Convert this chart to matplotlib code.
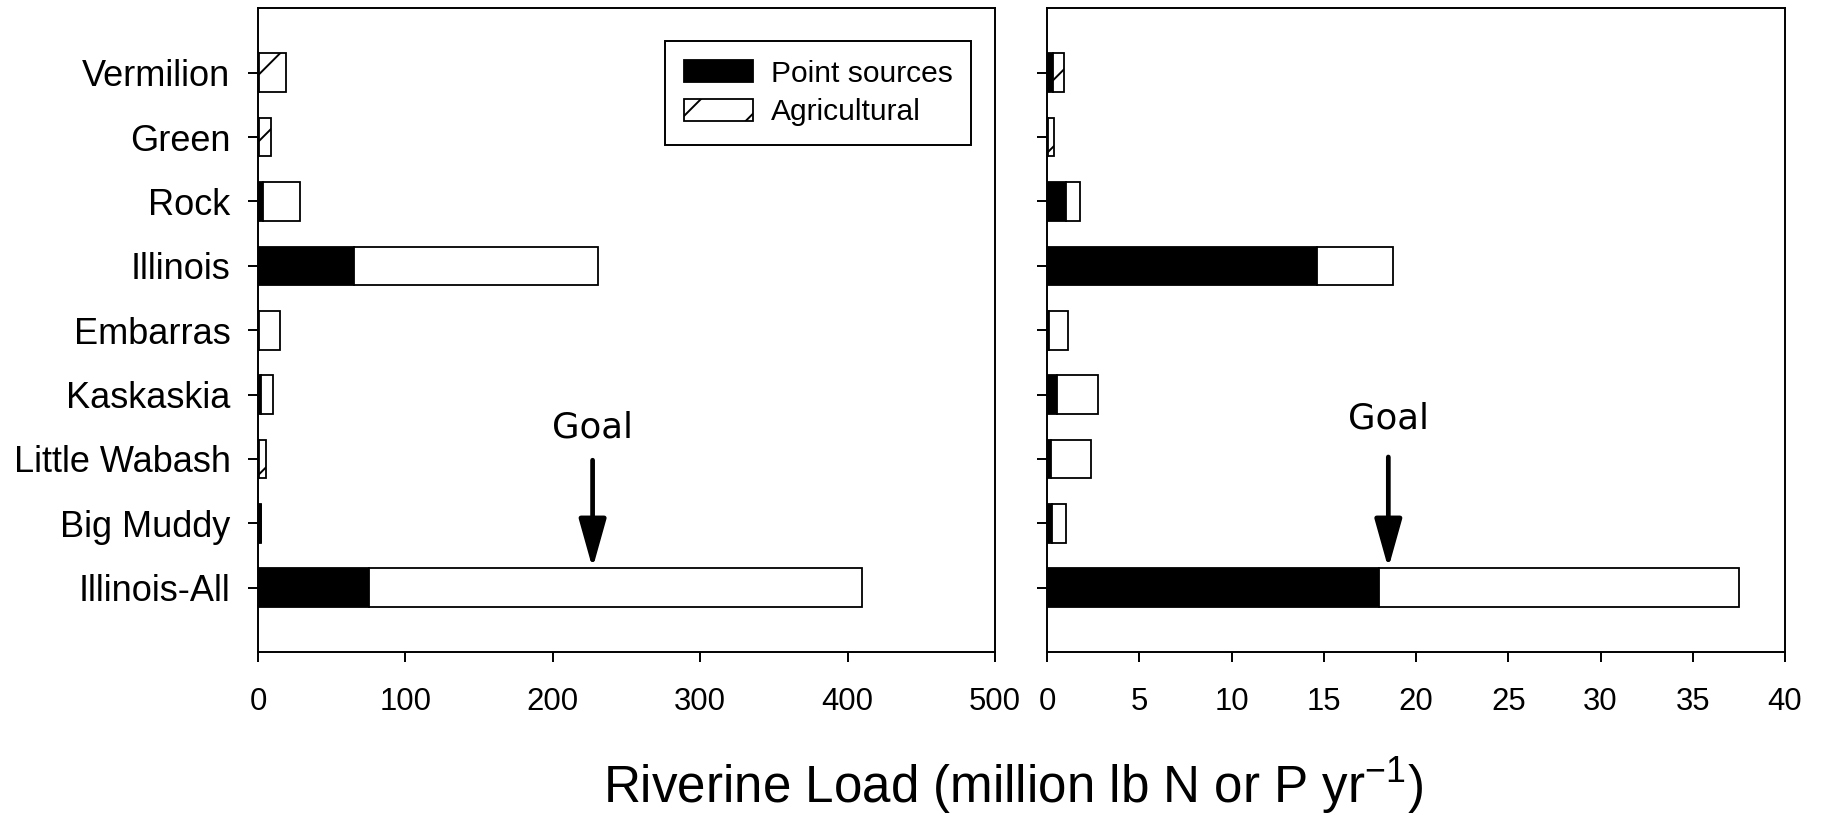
import matplotlib
matplotlib.use("Agg")
import matplotlib.pyplot as plt
from matplotlib.patches import Patch
import numpy as np

# ---------------- data ----------------
rivers = ["Vermilion", "Green", "Rock", "Illinois", "Embarras", "Kaskaskia",
          "Little Wabash", "Big Muddy", "Illinois-All"]

# Nitrogen (left panel), million lb N / yr
n_point = [1.0, 0.5, 3.4, 65.0, 0.5, 2.3, 0.5, 2.3, 75.5]
n_agri = [18.0, 8.5, 25.3, 166.0, 14.2, 8.1, 4.9, 0.0, 334.0]
n_goal = 227.0

# Phosphorus (right panel), million lb P / yr
p_point = [0.31, 0.05, 1.05, 14.66, 0.10, 0.54, 0.20, 0.27, 18.0]
p_agri = [0.60, 0.35, 0.75, 4.12, 1.04, 2.20, 2.20, 0.78, 19.5]
p_goal = 18.5

n_ticks = [0, 100, 200, 300, 400, 500]
p_ticks = [0, 5, 10, 15, 20, 25, 30, 35, 40]
legend_labels = ["Point sources", "Agricultural"]
goal_label = "Goal"
xlabel = r"Riverine Load (million lb N or P yr$^{-1}$)"

# styles: which agricultural bars carry the hatch
n_hatched = {"Vermilion", "Green", "Little Wabash"}
p_hatched = {"Vermilion", "Green"}

# ---------------- style ----------------
plt.rcParams["font.family"] = ["Liberation Sans", "DejaVu Sans"]
plt.rcParams["mathtext.default"] = "regular"
plt.rcParams["hatch.linewidth"] = 0.7
plt.rcParams["hatch.color"] = "black"

W, H, DPI = 1825, 815, 200
fig = plt.figure(figsize=(W / DPI, H / DPI), dpi=DPI)

def frac(x0, x1, ytop, ybot):
    return [x0 / W, 1 - ybot / H, (x1 - x0) / W, (ybot - ytop) / H]

ax1 = fig.add_axes(frac(258, 995, 8.4, 652))
ax2 = fig.add_axes(frac(1047, 1785, 8.4, 652))

ypos = np.arange(len(rivers))
bar_h = 0.6
edge_lw = 0.65

def draw_panel(ax, point, agri, hatched, ticks, goal, goal_text_y, arrow_top):
    ax.barh(ypos, point, height=bar_h, color="black", edgecolor="black",
            linewidth=edge_lw, zorder=2)
    bars = ax.barh(ypos, agri, left=point, height=bar_h, color="white",
                   edgecolor="black", linewidth=edge_lw, zorder=2)
    for b, name in zip(bars, rivers):
        if name in hatched:
            b.set_hatch("/")
    ax.set_ylim(len(rivers), -1)
    ax.set_xlim(ticks[0], ticks[-1])
    ax.set_xticks(ticks)
    ax.set_xticklabels([str(t) for t in ticks])
    ax.set_yticks(ypos)
    for s in ax.spines.values():
        s.set_linewidth(0.7)
        s.set_color("black")
    ax.tick_params(axis="x", direction="out", length=3.6, width=0.7,
                   labelsize=11.2, pad=9)
    ax.tick_params(axis="y", direction="out", length=3.6, width=0.7,
                   labelsize=13, pad=6.3)
    # goal arrow and text
    ax.annotate("", xy=(goal, len(rivers) - 1 - bar_h / 2),
                xytext=(goal, arrow_top),
                arrowprops=dict(arrowstyle="-|>,head_length=0.75,head_width=0.21",
                                lw=1.7, color="black", shrinkA=0, shrinkB=0,
                                mutation_scale=20),
                zorder=3)
    ax.text(goal, goal_text_y, goal_label, ha="center", va="baseline",
            fontsize=12.8, family=["DejaVu Sans"], zorder=3)

draw_panel(ax1, n_point, n_agri, n_hatched, n_ticks, n_goal, 5.66, 6.02)
draw_panel(ax2, p_point, p_agri, p_hatched, p_ticks, p_goal, 5.53, 5.97)

ax1.set_yticklabels(rivers)
ax2.tick_params(axis="y", labelleft=False)

handles = [Patch(facecolor="black", edgecolor="black", linewidth=edge_lw),
           Patch(facecolor="white", edgecolor="black", linewidth=edge_lw, hatch="/")]
leg = ax1.legend(handles, legend_labels, loc="upper right", fontsize=10.8,
                 frameon=True, fancybox=False, edgecolor="black", framealpha=1,
                 handlelength=2.3, handleheight=0.75, handletextpad=0.6,
                 labelspacing=0.36, borderpad=0.62, borderaxespad=0,
                 bbox_to_anchor=(971 / W, 1 - 41 / H),
                 bbox_transform=fig.transFigure)
leg.get_frame().set_linewidth(0.7)

fig.text(1013 / W, 1 - 803 / H, xlabel, ha="center", va="baseline", fontsize=18.4)

fig.savefig("out.png", dpi=DPI)
